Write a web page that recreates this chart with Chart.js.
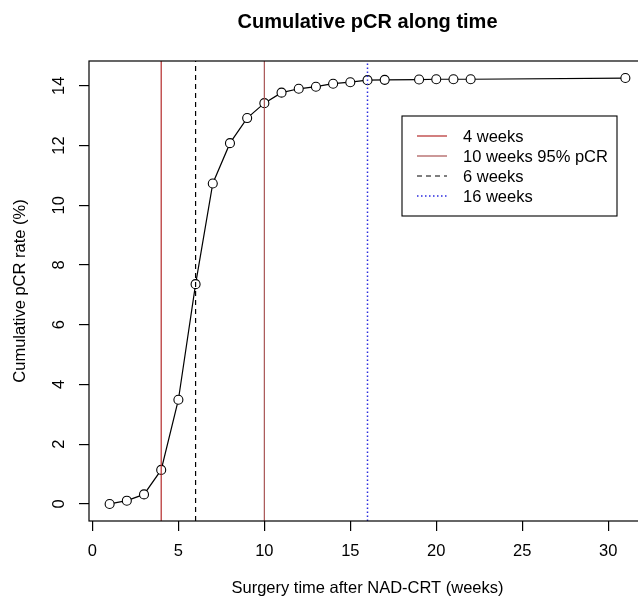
<!DOCTYPE html>
<html>
<head>
<meta charset="utf-8">
<script src="https://cdn.jsdelivr.net/npm/chart.js@4/dist/chart.umd.min.js"></script>
<style>
  html, body { margin: 0; padding: 0; background: #fff; overflow: hidden; width: 638px; height: 600px; }
  canvas { display: block; }
</style>
</head>
<body>
<canvas id="chart" width="660" height="600"></canvas>
<script>
// Data
const weeks = [1, 2, 3, 4, 5, 6, 7, 8, 9, 10, 11, 12, 13, 14, 15, 16, 17, 19, 20, 21, 22, 31];
const pcrRate = [0.0, 0.11, 0.32, 1.14, 3.49, 7.36, 10.73, 12.08, 12.92, 13.42, 13.77, 13.90,
                 13.97, 14.07, 14.12, 14.19, 14.20, 14.21, 14.22, 14.22, 14.22, 14.26];

// Reference lines (abline v=...)
const refWeeks = [4, 10, 6, 16];
const refLabels = ['4 weeks', '10 weeks 95% pCR', '6 weeks', '16 weeks'];
const refColors = ['#b52a2a', '#a85454', '#000000', '#2a2ae0'];
const refDash = [[], [], [5, 4], [1.5, 2.5]];
const refWidth = [1.2, 1.2, 1.2, 1.5];

const xTicks = [0, 5, 10, 15, 20, 25, 30];
const yTicks = [0, 2, 4, 6, 8, 10, 12, 14];

const FONT = '"Liberation Sans", Arial, Helvetica, sans-serif';

// R style axis range: data range extended by 4% each side
function rRange(vals) {
    const lo = Math.min(...vals), hi = Math.max(...vals);
    const d = (hi - lo) * 0.04;
    return [lo - d, hi + d];
}
const [xMin, xMax] = rRange(weeks);
const [yMin, yMax] = rRange(pcrRate);

const datasets = refWeeks.map((w, i) => ({
    label: refLabels[i],
    data: [{ x: w, y: yMin }, { x: w, y: yMax }],
    borderColor: refColors[i],
    borderWidth: refWidth[i],
    borderDash: refDash[i],
    pointRadius: 0,
    order: 0
}));

datasets.push({
    label: 'pCR',
    data: weeks.map((w, i) => ({ x: w, y: pcrRate[i] })),
    borderColor: '#000',
    borderWidth: 1.2,
    pointRadius: 4.5,
    pointBorderWidth: 1.1,
    pointBorderColor: '#000',
    pointBackgroundColor: '#fff',
    tension: 0,
    order: 1
});

// Box, titles, rotated y labels and legend, drawn R style
const rDecor = {
    id: 'rDecor',
    afterDraw(chart) {
        const ctx = chart.ctx;
        const a = chart.chartArea;
        const ys = chart.scales.y;
        ctx.save();

        // plot box
        ctx.strokeStyle = '#000';
        ctx.lineWidth = 1.2;
        ctx.strokeRect(a.left, a.top, a.right - a.left, a.bottom - a.top);

        // y tick labels (rotated like R)
        ctx.fillStyle = '#000';
        ctx.font = '16.5px ' + FONT;
        ctx.textAlign = 'center';
        ctx.textBaseline = 'middle';
        yTicks.forEach(v => {
            ctx.save();
            ctx.translate(59, ys.getPixelForValue(v));
            ctx.rotate(-Math.PI / 2);
            ctx.fillText(String(v), 0, 0);
            ctx.restore();
        });

        // axis titles
        const cx = (a.left + a.right) / 2;
        ctx.fillText('Surgery time after NAD-CRT (weeks)', cx, 588);
        ctx.save();
        ctx.translate(20, (a.top + a.bottom) / 2);
        ctx.rotate(-Math.PI / 2);
        ctx.fillText('Cumulative pCR rate (%)', 0, 0);
        ctx.restore();

        // main title
        ctx.font = 'bold 20px ' + FONT;
        ctx.fillText('Cumulative pCR along time', cx, 22);

        // legend
        const lx = 402, ly = 116, lw = 215, lh = 100;
        ctx.lineWidth = 1.1;
        ctx.setLineDash([]);
        ctx.strokeStyle = '#000';
        ctx.strokeRect(lx, ly, lw, lh);
        ctx.font = '16.5px ' + FONT;
        ctx.textAlign = 'left';
        refLabels.forEach((lab, i) => {
            const y = 136 + i * 20;
            ctx.strokeStyle = refColors[i];
            ctx.setLineDash(refDash[i]);
            ctx.lineWidth = refWidth[i];
            ctx.beginPath();
            ctx.moveTo(417, y);
            ctx.lineTo(447, y);
            ctx.stroke();
            ctx.fillStyle = '#000';
            ctx.fillText(lab, 463, y + 1);
        });
        ctx.restore();
    }
};

new Chart(document.getElementById('chart'), {
    type: 'line',
    data: { datasets },
    options: {
        responsive: false,
        animation: false,
        devicePixelRatio: 1,
        layout: { padding: { left: 0, top: 61, right: 14, bottom: 0 } },
        plugins: { legend: { display: false }, title: { display: false }, tooltip: { enabled: false } },
        scales: {
            x: {
                type: 'linear',
                min: xMin,
                max: xMax,
                afterBuildTicks: s => { s.ticks = xTicks.map(v => ({ value: v })); },
                afterFit: s => { s.height = 79; },
                border: { display: false },
                grid: { drawOnChartArea: false, drawTicks: true, tickLength: 10, color: '#000', lineWidth: 1.2 },
                ticks: { color: '#000', font: { family: FONT, size: 16.5 }, padding: 11, maxRotation: 0 }
            },
            y: {
                type: 'linear',
                min: yMin,
                max: yMax,
                afterBuildTicks: s => { s.ticks = yTicks.map(v => ({ value: v })); },
                afterFit: s => { s.width = 89; },
                border: { display: false },
                grid: { drawOnChartArea: false, drawTicks: true, tickLength: 10, color: '#000', lineWidth: 1.2 },
                ticks: { display: false }
            }
        }
    },
    plugins: [rDecor]
});
</script>
</body>
</html>
